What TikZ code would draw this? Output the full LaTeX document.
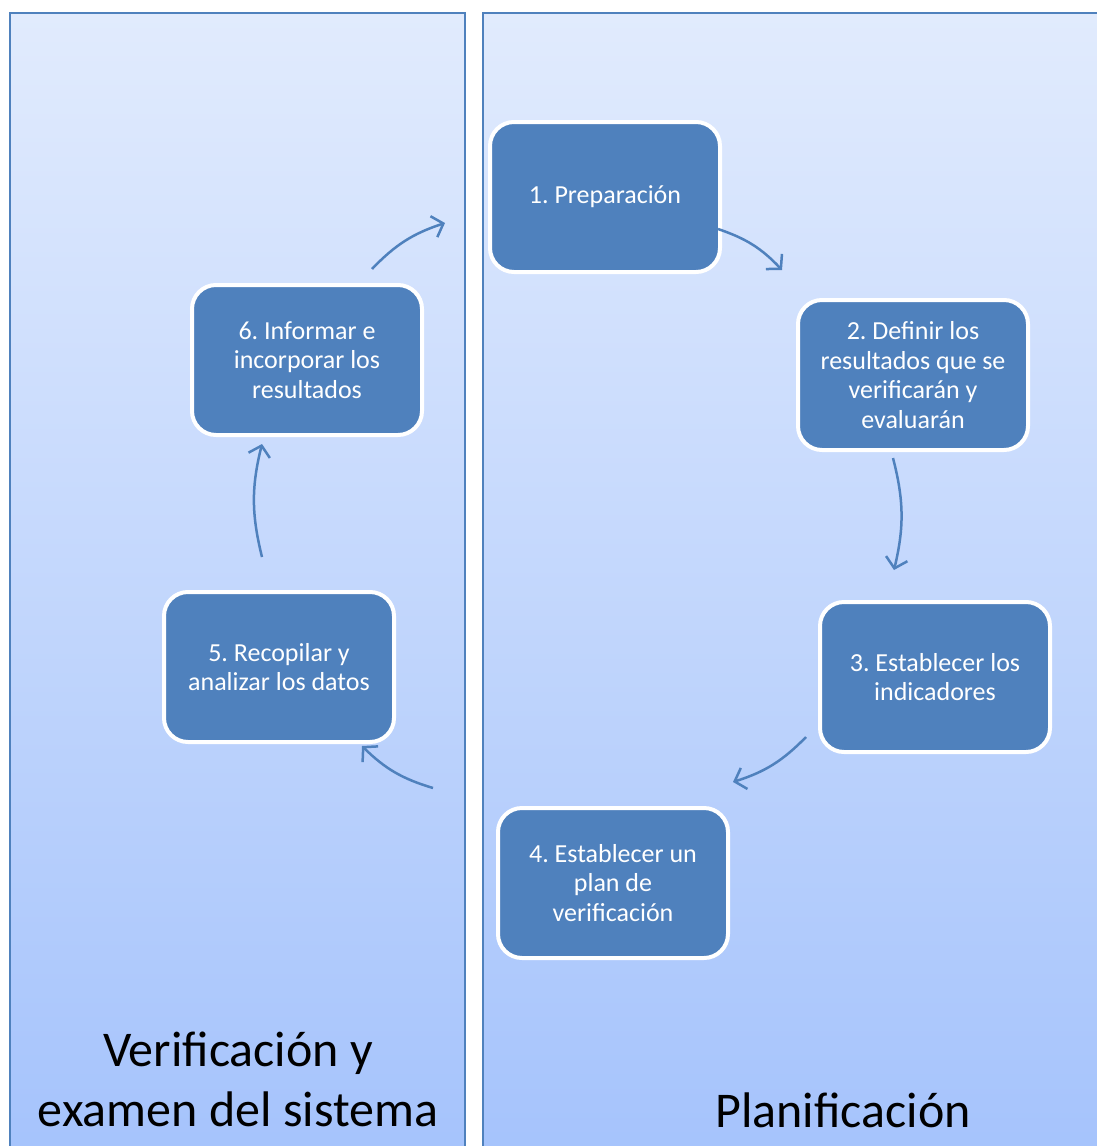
\documentclass[tikz,border=0pt]{standalone}
\usepackage{fontspec}
\setmainfont{Carlito}
\usetikzlibrary{arrows.meta}

\definecolor{boxblue}{RGB}{79,129,189}
\definecolor{panelline}{RGB}{79,129,189}
\definecolor{paneltop}{RGB}{225,235,253}
\definecolor{panelbot}{RGB}{165,195,252}

\frenchspacing
\begin{document}
\begin{tikzpicture}[x=1pt,y=-1pt,
    panel/.style={draw=panelline,line width=1.8pt,top color=paneltop,bottom color=panelbot},
    stepbox/.style={rectangle,rounded corners=24pt,fill=boxblue,draw=white,line width=4pt,
        minimum width=230pt,minimum height=150pt,inner sep=0pt,align=center,
        text=white,font=\fontsize{26}{29.5}\selectfont},
    arr/.style={draw=boxblue,line width=2.5pt,-{Straight Barb[length=10pt,width=22pt,line width=2.5pt]}},
    title/.style={font=\fontsize{50}{60}\selectfont,align=center}]

    \useasboundingbox (0,0) rectangle (1096,1146);

    % the two panels
    \path[panel] (10,13) rectangle (465,1160);
    \path[panel] (483,13) rectangle (1110,1160);

    % the six steps
    \node[stepbox] (b1) at (605,197) {1. Preparación};
    \node[stepbox] (b2) at (913,375) {2. Definir los\\resultados que se\\verificarán y\\evaluarán};
    \node[stepbox] (b3) at (935,677) {3. Establecer los\\indicadores};
    \node[stepbox] (b4) at (613,883) {4. Establecer un\\plan de\\verificación};
    \node[stepbox] (b5) at (279,667) {5. Recopilar y\\analizar los datos};
    \node[stepbox] (b6) at (307,360) {6. Informar e\\incorporar los\\resultados};

    % arrow ends
    \coordinate (a1s) at (718,229);
    \coordinate (a1e) at (782,270);
    \coordinate (a2s) at (893,458);
    \coordinate (a2e) at (894,570);
    \coordinate (a3s) at (806,737);
    \coordinate (a3e) at (733,782);
    \coordinate (a4s) at (433,788);
    \coordinate (a4e) at (362,746);
    \coordinate (a5s) at (262,557);
    \coordinate (a5e) at (262,444);
    \coordinate (a6s) at (372,269);
    \coordinate (a6e) at (445,223);

    \foreach \i in {1,...,6}{
        \draw[arr] (a\i s) to[bend left=14] (a\i e);
    }

    \node[title] (t1) at (238,1079) {Verificación y\\examen del sistema};
    \node[title,anchor=base] (t2) at (843,1127) {Planificación};

\end{tikzpicture}
\end{document}
